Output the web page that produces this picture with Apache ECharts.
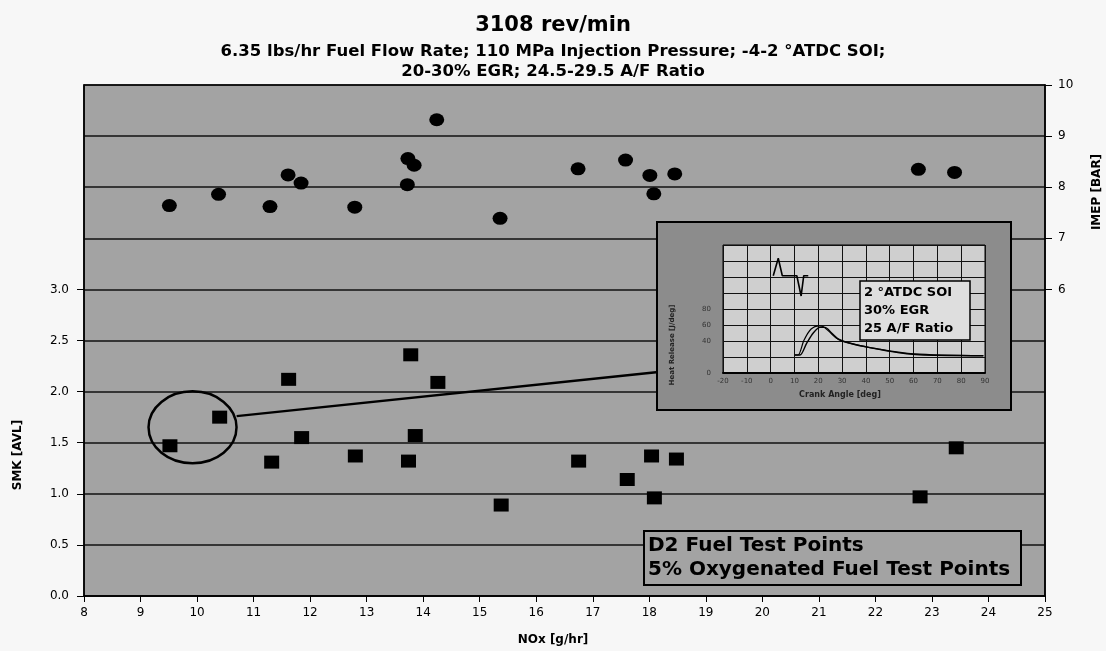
<!DOCTYPE html>
<html>
<head>
<meta charset="utf-8">
<script src="https://cdn.jsdelivr.net/npm/echarts@6/dist/echarts.min.js"></script>
<style>
  html, body { margin: 0; padding: 0; background: #f7f7f7; }
  #chart { width: 1106px; height: 651px; }
</style>
</head>
<body>
<div id="chart"></div>
<script>
// Smoke (squares, left axis) and IMEP (circles, right axis) against NOx
const smkNOx    = [9.52, 10.40, 11.32, 11.62, 11.85, 12.80, 13.78, 13.74, 13.86, 14.26, 15.38, 16.75, 17.61, 18.04, 18.09, 18.48, 22.79, 23.43];
const smkValues = [1.47, 1.75, 1.31, 2.12, 1.55, 1.37, 2.36, 1.32, 1.57, 2.09, 0.89, 1.32, 1.14, 1.37, 0.96, 1.34, 0.97, 1.45];
const imepNOx    = [9.51, 10.38, 11.29, 11.61, 11.84, 12.79, 13.73, 13.84, 13.72, 14.24, 15.36, 16.74, 17.58, 18.01, 18.45, 18.08, 22.76, 23.40];
const imepValues = [7.64, 7.86, 7.62, 8.24, 8.08, 7.61, 8.56, 8.43, 8.05, 9.32, 7.39, 8.36, 8.53, 8.23, 8.26, 7.87, 8.35, 8.29];

// Labelled ticks on each axis
const smkTickLabels  = [0, 0.5, 1.0, 1.5, 2.0, 2.5, 3.0];
const imepTickLabels = [6, 7, 8, 9, 10];

// Inset: injection signal and heat release vs crank angle
const injAngle  = [1.1, 3.2, 4.9, 11.0, 12.8, 13.9, 15.8];
const injSignal = [121.6, 143.4, 121.6, 121.6, 96.3, 121.6, 121.6];
const hrAngleA  = [10.2, 12.3, 15.1, 17.9, 20.7, 22.8, 25.6, 29.1, 36.2, 43.1, 50.2, 57.2, 64.1, 89.3];
const hrValueA  = [22.5, 22.5, 37, 50, 57, 57, 50, 41, 35, 31, 27, 24, 22.5, 21.6];
const hrAngleB  = [10.2, 11.5, 14.0, 17.0, 20.5, 22.0, 24.5, 28.0, 35.0, 45.0, 60.0, 89.3];
const hrValueB  = [22.5, 22.5, 41, 55, 59, 58, 52, 43, 36, 30, 24, 21.6];
const insetYLabels = [0, 40, 60, 80];

// Highlight ring and arrow pointing to the inset
const ringCenter = [9.92, 1.65];
const arrowFrom  = [10.70, 1.76];
const arrowTo    = [18.12, 2.19];

const FONT = '"DejaVu Sans", "Liberation Sans", sans-serif';
const chart = echarts.init(document.getElementById('chart'));

const pairs = (xs, ys) => xs.map((x, i) => [x, ys[i]]);

const option = {
  animation: false,
  backgroundColor: '#f7f7f7',
  title: [
    { text: '3108 rev/min', left: 'center', top: 10,
      textStyle: { fontFamily: FONT, fontWeight: 'bold', fontSize: 21, color: '#000' } },
    { text: '6.35 lbs/hr Fuel Flow Rate; 110 MPa Injection Pressure; -4-2 °ATDC SOI;', left: 'center', top: 38,
      textStyle: { fontFamily: FONT, fontWeight: 'bold', fontSize: 16.5, color: '#000' } },
    { text: '20-30% EGR; 24.5-29.5 A/F Ratio', left: 'center', top: 58,
      textStyle: { fontFamily: FONT, fontWeight: 'bold', fontSize: 16.5, color: '#000' } }
  ],
  grid: [
    { left: 84, right: 61, top: 85, bottom: 55, show: true,
      backgroundColor: '#a3a3a3', borderColor: '#000', borderWidth: 1.5 },
    { left: 723, top: 245, width: 262, height: 128, show: true, z: 11,
      backgroundColor: '#cfcfcf', borderColor: '#000', borderWidth: 1 }
  ],
  xAxis: [
    { type: 'value', gridIndex: 0, min: 8, max: 25, interval: 1,
      axisLine: { lineStyle: { color: '#000', width: 1.5 } },
      axisTick: { length: 6, lineStyle: { color: '#000' } },
      axisLabel: { color: '#000', fontFamily: FONT, fontSize: 12, margin: 11 },
      splitLine: { show: false } },
    { type: 'value', gridIndex: 1, min: -20, max: 90, interval: 10, z: 11,
      axisLine: { lineStyle: { color: '#000', width: 2 } },
      axisTick: { show: false },
      axisLabel: { color: '#333', fontFamily: FONT, fontSize: 7, margin: 5 },
      splitLine: { lineStyle: { color: '#111', width: 1 } } }
  ],
  yAxis: [
    { type: 'value', gridIndex: 0, min: 0, max: 5, interval: 0.5, position: 'left',
      axisLine: { show: true, lineStyle: { color: '#000', width: 1.5 } },
      axisTick: { show: true, length: 7, customValues: smkTickLabels, lineStyle: { color: '#000' } },
      axisLabel: { color: '#000', fontFamily: FONT, fontSize: 12, margin: 15,
        customValues: smkTickLabels, formatter: v => v.toFixed(1) },
      splitLine: { show: false } },
    { type: 'value', gridIndex: 0, min: 0, max: 10, interval: 1, position: 'right',
      axisLine: { show: true, lineStyle: { color: '#000', width: 1.5 } },
      axisTick: { show: true, length: 7, customValues: imepTickLabels, lineStyle: { color: '#000' } },
      axisLabel: { color: '#000', fontFamily: FONT, fontSize: 12, margin: 13,
        customValues: imepTickLabels },
      splitLine: { show: false } },
    { type: 'value', gridIndex: 1, min: 0, max: 160, interval: 20, z: 11,
      axisLine: { show: false },
      axisTick: { show: false },
      axisLabel: { color: '#333', fontFamily: FONT, fontSize: 7, margin: 12, customValues: insetYLabels },
      splitLine: { lineStyle: { color: '#111', width: 1 } } },
    // full-height horizontal rules of the main plot
    { type: 'value', gridIndex: 0, min: 0, max: 10, interval: 1, position: 'right',
      axisLine: { show: false }, axisTick: { show: false }, axisLabel: { show: false },
      splitLine: { show: true, lineStyle: { color: '#111', width: 1.5 } } }
  ],
  series: [
    { name: 'SMK', type: 'scatter', xAxisIndex: 0, yAxisIndex: 0,
      symbol: 'rect', symbolSize: [15, 13], itemStyle: { color: '#000', opacity: 1 },
      data: pairs(smkNOx, smkValues),
      markLine: {
        silent: true, symbol: ['none', 'triangle'], symbolSize: [0, 11],
        lineStyle: { color: '#000', width: 2.5, type: 'solid' },
        label: { show: false },
        data: [[{ coord: arrowFrom }, { coord: arrowTo }]]
      } },
    { name: 'IMEP', type: 'scatter', xAxisIndex: 0, yAxisIndex: 1,
      symbol: 'circle', symbolSize: [15, 13], itemStyle: { color: '#000', opacity: 1 },
      data: pairs(imepNOx, imepValues) },
    { name: 'Injection', type: 'line', xAxisIndex: 1, yAxisIndex: 2, z: 12,
      showSymbol: false, lineStyle: { color: '#000', width: 1.6 },
      data: pairs(injAngle, injSignal) },
    { name: 'Heat release A', type: 'line', xAxisIndex: 1, yAxisIndex: 2, z: 12,
      showSymbol: false, smooth: 0.3, lineStyle: { color: '#000', width: 1.4 },
      data: pairs(hrAngleA, hrValueA) },
    { name: 'Heat release B', type: 'line', xAxisIndex: 1, yAxisIndex: 2, z: 12,
      showSymbol: false, smooth: 0.3, lineStyle: { color: '#000', width: 1.2 },
      data: pairs(hrAngleB, hrValueB) }
  ],
  graphic: [
    // axis titles
    { type: 'text', x: 18, y: 455, rotation: Math.PI / 2, z: 20,
      style: { text: 'SMK [AVL]', font: 'bold 12px ' + FONT, fill: '#000', align: 'center', verticalAlign: 'middle' } },
    { type: 'text', x: 1097, y: 192, rotation: Math.PI / 2, z: 20,
      style: { text: 'IMEP [BAR]', font: 'bold 12px ' + FONT, fill: '#000', align: 'center', verticalAlign: 'middle' } },
    { type: 'text', x: 553, y: 640, z: 20,
      style: { text: 'NOx [g/hr]', font: 'bold 12px ' + FONT, fill: '#000', align: 'center', verticalAlign: 'middle' } },
    // inset frame
    { type: 'rect', z: 10, shape: { x: 657, y: 222, width: 354, height: 188 },
      style: { fill: '#8c8c8c', stroke: '#000', lineWidth: 2 } },
    { type: 'text', x: 840, y: 395, z: 13,
      style: { text: 'Crank Angle [deg]', font: 'bold 8px ' + FONT, fill: '#222', align: 'center', verticalAlign: 'middle' } },
    { type: 'text', x: 672, y: 345, rotation: Math.PI / 2, z: 13,
      style: { text: 'Heat Release [J/deg]', font: 'bold 7px ' + FONT, fill: '#222', align: 'center', verticalAlign: 'middle' } },
    // inset condition box
    { type: 'rect', z: 13, shape: { x: 860, y: 281, width: 110, height: 59 },
      style: { fill: '#dedede', stroke: '#000', lineWidth: 1.5 } },
    { type: 'text', x: 864, y: 293, z: 14,
      style: { text: '2 °ATDC SOI', font: 'bold 13px ' + FONT, fill: '#000', align: 'left', verticalAlign: 'middle' } },
    { type: 'text', x: 864, y: 311, z: 14,
      style: { text: '30% EGR', font: 'bold 13px ' + FONT, fill: '#000', align: 'left', verticalAlign: 'middle' } },
    { type: 'text', x: 864, y: 329, z: 14,
      style: { text: '25 A/F Ratio', font: 'bold 13px ' + FONT, fill: '#000', align: 'left', verticalAlign: 'middle' } },
    // fuel key box
    { type: 'rect', z: 10, shape: { x: 644, y: 531, width: 377, height: 54 },
      style: { fill: '#a3a3a3', stroke: '#000', lineWidth: 2 } },
    { type: 'text', x: 648, y: 546, z: 11,
      style: { text: 'D2 Fuel Test Points', font: 'bold 20px ' + FONT, fill: '#000', align: 'left', verticalAlign: 'middle' } },
    { type: 'text', x: 648, y: 570, z: 11,
      style: { text: '5% Oxygenated Fuel Test Points', font: 'bold 20px ' + FONT, fill: '#000', align: 'left', verticalAlign: 'middle' } }
  ]
};

chart.setOption(option);

// ring around the two low-NOx points, placed through the axis scales
const c = chart.convertToPixel({ xAxisIndex: 0, yAxisIndex: 0 }, ringCenter);
const graphics = option.graphic.slice();
graphics.push({ type: 'ellipse', z: 9, shape: { cx: c[0], cy: c[1], rx: 44, ry: 36 },
  style: { fill: 'none', stroke: '#000', lineWidth: 2.5 } });
chart.setOption({ graphic: graphics });
</script>
</body>
</html>
